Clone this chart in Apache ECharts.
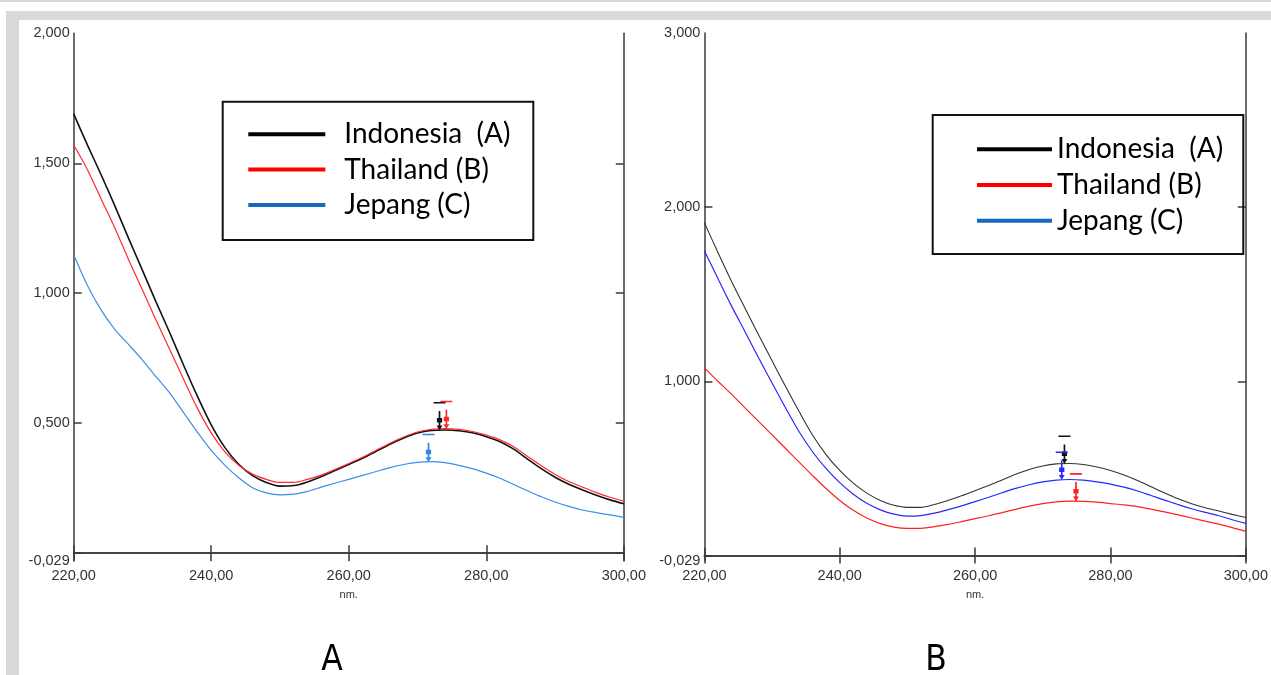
<!DOCTYPE html>
<html>
<head>
<meta charset="utf-8">
<script src="https://cdn.jsdelivr.net/npm/echarts@6/dist/echarts.min.js"></script>
<style>
html,body{margin:0;padding:0;background:#fff;}
#chart{width:1271px;height:675px;}
</style>
</head>
<body>
<div id="chart"></div>
<script>
// ---- data ----
const wavelengths = [220,222,224,226,228,230,232,234,236,238,240,242,244,246,248,250,252,254,256,258,260,262,264,266,268,270,272,274,276,278,280,282,284,286,288,290,292,294,296,298,300];

const seriesNames = ['Indonesia  (A)', 'Thailand (B)', 'Jepang (C)'];

// Panel A
const indonesiaA = [1.69,1.57,1.455,1.335,1.21,1.088,0.965,0.846,0.722,0.603,0.494,0.406,0.342,0.298,0.272,0.258,0.260,0.274,0.295,0.318,0.341,0.365,0.392,0.419,0.443,0.462,0.472,0.474,0.471,0.463,0.448,0.429,0.400,0.362,0.325,0.292,0.265,0.243,0.223,0.205,0.190];
const thailandA  = [1.57,1.475,1.362,1.25,1.128,1.012,0.895,0.782,0.668,0.557,0.463,0.39,0.338,0.304,0.284,0.272,0.272,0.284,0.300,0.322,0.345,0.369,0.396,0.423,0.447,0.466,0.476,0.479,0.476,0.468,0.454,0.436,0.409,0.372,0.336,0.303,0.276,0.254,0.233,0.215,0.200];
const jepangA    = [1.148,1.03,0.935,0.86,0.802,0.743,0.678,0.615,0.54,0.465,0.395,0.338,0.29,0.252,0.232,0.224,0.227,0.238,0.254,0.269,0.284,0.299,0.314,0.329,0.341,0.349,0.352,0.348,0.338,0.325,0.308,0.288,0.264,0.240,0.217,0.197,0.180,0.166,0.156,0.147,0.138];

// Panel B
const indonesiaB = [1.91,1.74,1.575,1.42,1.268,1.118,0.97,0.826,0.69,0.578,0.488,0.415,0.358,0.316,0.288,0.276,0.276,0.293,0.316,0.343,0.372,0.402,0.433,0.466,0.494,0.514,0.526,0.528,0.522,0.508,0.488,0.462,0.43,0.394,0.358,0.325,0.297,0.274,0.255,0.236,0.218];
const thailandB  = [1.077,1.0,0.926,0.847,0.77,0.692,0.614,0.536,0.458,0.383,0.316,0.259,0.215,0.183,0.163,0.155,0.156,0.165,0.178,0.194,0.211,0.228,0.246,0.265,0.283,0.298,0.308,0.312,0.311,0.306,0.298,0.29,0.28,0.266,0.25,0.233,0.215,0.197,0.18,0.16,0.138];
const jepangB    = [1.75,1.59,1.433,1.285,1.135,0.99,0.847,0.71,0.594,0.498,0.418,0.352,0.30,0.262,0.237,0.226,0.229,0.243,0.263,0.285,0.309,0.334,0.36,0.385,0.406,0.422,0.433,0.436,0.432,0.423,0.41,0.392,0.37,0.344,0.318,0.292,0.268,0.247,0.228,0.205,0.184];

// peak picks [wavelength, absorbance]
const peakIndonesiaA = [273.2, 0.474];
const peakThailandA  = [274.2, 0.479];
const peakJepangA    = [271.6, 0.352];
const peakIndonesiaB = [273.2, 0.528];
const peakThailandB  = [274.9, 0.312];
const peakJepangB    = [272.8, 0.436];

// axes
const xMin = 220, xMax = 300, xStep = 20;
const yMinA = -0.029, yMaxA = 2.0;
const yLabelsA = [-0.029, 0.5, 1.0, 1.5, 2.0];
const yTicksA  = [0, 0.5, 1.0, 1.5];
const yMinB = -0.029, yMaxB = 3.0;
const yLabelsB = [-0.029, 1.0, 2.0, 3.0];
const yTicksB  = [0, 1.0, 2.0];
const panelLabels = ['A', 'B'];

// ---- build ----
const pairs = (ys) => wavelengths.map((x, i) => [x, ys[i]]);
const fmtY = v => v.toFixed(3).replace('.', ',');
const fmtX = v => v.toFixed(2).replace('.', ',');
const axisColor = '#3a3a3a';
const labelFont = 'Liberation Sans, Arial, sans-serif';

const markerPath = 'path://M1,0 L11,0 L11,1.6 L1,1.6 Z M5.3,9 L6.7,9 L6.7,28 L5.3,28 Z M3.8,16 L8.2,16 L8.2,20.5 L3.8,20.5 Z M3.5,23.5 L8.5,23.5 L6,28 Z';

function peakMark(coord, color) {
  return {
    symbol: markerPath,
    symbolSize: [12, 28],
    symbolOffset: [0, '-50%'],
    silent: true,
    label: {show: false},
    itemStyle: {color: color},
    data: [{coord: coord}]
  };
}

function xAxes(gi) {
  const base = {
    type: 'value', gridIndex: gi, min: xMin, max: xMax, interval: xStep,
    splitLine: {show: false},
    axisLine: {show: true, lineStyle: {color: axisColor, width: 1.5}},
    axisTick: {show: true, inside: true, length: 8, lineStyle: {color: axisColor, width: 1.5}}
  };
  return [
    Object.assign({}, base, {
      position: 'bottom',
      name: 'nm.', nameLocation: 'middle', nameGap: 29,
      nameTextStyle: {fontSize: 11, color: '#333', fontFamily: labelFont},
      axisLabel: {formatter: fmtX, fontSize: 14.5, color: '#333', margin: 8, fontFamily: labelFont}
    }),
    Object.assign({}, base, {position: 'top', axisLabel: {show: false}})
  ];
}

function yAxes(gi, mn, mx, labels, ticks) {
  const base = {
    type: 'value', gridIndex: gi, min: mn, max: mx,
    splitLine: {show: false},
    axisLine: {show: true, lineStyle: {color: axisColor, width: 1.5}},
    axisTick: {show: true, inside: true, length: 8, customValues: ticks, lineStyle: {color: axisColor, width: 1.5}}
  };
  return [
    Object.assign({}, base, {
      position: 'left',
      axisLabel: {customValues: labels, formatter: fmtY, fontSize: 14.5, color: '#333', margin: 4, fontFamily: labelFont}
    }),
    Object.assign({}, base, {position: 'right', axisLabel: {show: false}})
  ];
}

function line(name, data, xi, yi, color, width, mark) {
  return {
    name: name, type: 'line', xAxisIndex: xi, yAxisIndex: yi,
    data: data, showSymbol: false, smooth: 0.3,
    lineStyle: {color: color, width: width}, itemStyle: {color: color},
    markPoint: mark, z: 3, animation: false
  };
}

const legendColors = ['#000000', '#ff0000', '#1769c0'];
function legendBlock(left, top, gap, textPad, itemW) {
  return {
    orient: 'vertical', left: left, top: top, padding: 0,
    itemWidth: itemW, itemHeight: 4, itemGap: gap, icon: 'rect',
    selectedMode: false,
    textStyle: {fontSize: 28, lineHeight: 28, color: '#000', fontFamily: 'Lato, Carlito, Calibri, sans-serif', padding: [0, 0, 0, textPad]},
    data: seriesNames.map((n, i) => ({name: n, itemStyle: {color: legendColors[i]}}))
  };
}

const chart = echarts.init(document.getElementById('chart'), null, {renderer: 'canvas'});
chart.setOption({
  backgroundColor: '#ffffff',
  animation: false,
  grid: [
    {left: 73.7, top: 33.3, width: 550.1, height: 527.4},
    {left: 704.4, top: 33, width: 543.6, height: 527.5}
  ],
  xAxis: xAxes(0).concat(xAxes(1)),
  yAxis: yAxes(0, yMinA, yMaxA, yLabelsA, yTicksA).concat(yAxes(1, yMinB, yMaxB, yLabelsB, yTicksB)),
  legend: [
    legendBlock(248.3, 120.3, 7.3, 14, 77),
    legendBlock(977, 135.3, 7.7, 0, 75)
  ],
  series: [
    line(seriesNames[0], pairs(indonesiaA), 0, 0, '#111111', 1.6, peakMark(peakIndonesiaA, '#111111')),
    line(seriesNames[1], pairs(thailandA), 0, 0, '#ff2a2a', 1.2, peakMark(peakThailandA, '#ff2a2a')),
    line(seriesNames[2], pairs(jepangA), 0, 0, '#3a8fe8', 1.2, peakMark(peakJepangA, '#2f86e0')),
    line(seriesNames[0], pairs(indonesiaB), 2, 2, '#333333', 1.1, peakMark(peakIndonesiaB, '#111111')),
    line(seriesNames[1], pairs(thailandB), 2, 2, '#ff2020', 1.2, peakMark(peakThailandB, '#ff2020')),
    line(seriesNames[2], pairs(jepangB), 2, 2, '#2828ff', 1.2, peakMark(peakJepangB, '#2828ff'))
  ],
  graphic: [
    {type: 'rect', z: -10, silent: true, shape: {x: 0, y: 0, width: 1271, height: 2}, style: {fill: '#d9d9d9'}},
    {type: 'rect', z: -10, silent: true, shape: {x: 6, y: 11, width: 1265, height: 9}, style: {fill: '#d9d9d9'}},
    {type: 'rect', z: -10, silent: true, shape: {x: 6, y: 11, width: 13, height: 664}, style: {fill: '#d9d9d9'}},
    {type: 'rect', z: 5, silent: true, shape: {x: 222.7, y: 101.7, width: 310.6, height: 138.3}, style: {fill: 'none', stroke: '#111', lineWidth: 2}},
    {type: 'rect', z: 5, silent: true, shape: {x: 932.7, y: 115, width: 310.6, height: 139}, style: {fill: 'none', stroke: '#111', lineWidth: 2}},
    {type: 'text', silent: true, x: 332, y: 661, style: {text: panelLabels[0], font: '35px "Liberation Sans Narrow", "DejaVu Sans Condensed", sans-serif', fill: '#000', textAlign: 'center', textVerticalAlign: 'middle'}},
    {type: 'text', silent: true, x: 936, y: 661, style: {text: panelLabels[1], font: '35px "Liberation Sans Narrow", "DejaVu Sans Condensed", sans-serif', fill: '#000', textAlign: 'center', textVerticalAlign: 'middle'}}
  ]
});
</script>
</body>
</html>
